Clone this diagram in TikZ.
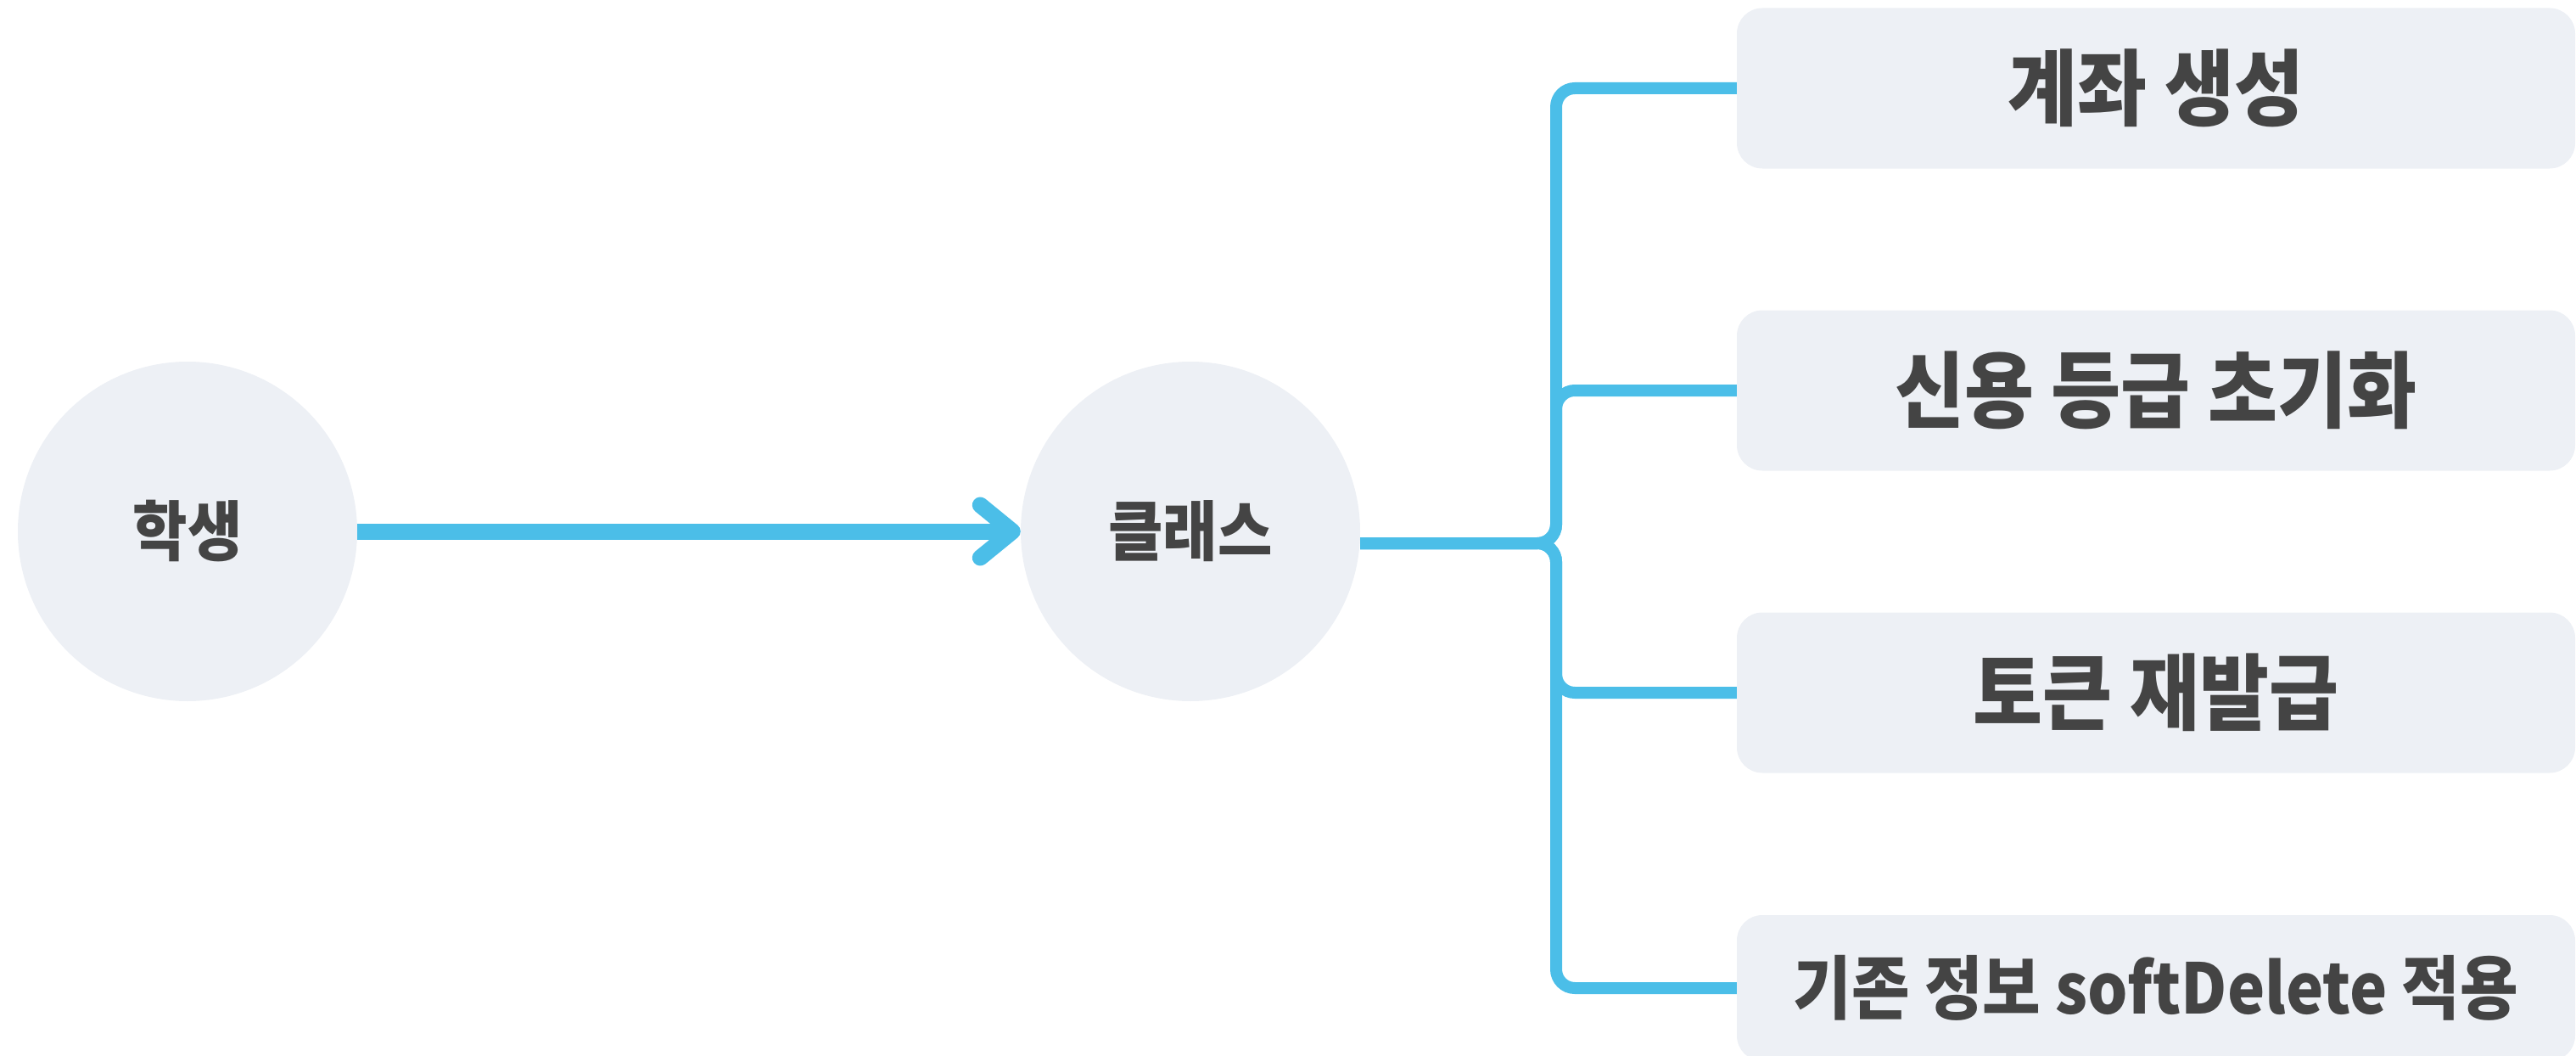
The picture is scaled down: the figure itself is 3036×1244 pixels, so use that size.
\documentclass[tikz,border=0pt]{standalone}
\usepackage{fontspec}
\setmainfont{Noto Sans CJK KR}
\newfontfamily\krn{Noto Sans CJK KR}[FakeStretch=0.91]
\usetikzlibrary{arrows.meta}
\definecolor{bluel}{HTML}{4BBEE8}
\definecolor{fillc}{HTML}{EDF0F5}
\definecolor{txt}{HTML}{444444}
\begin{document}
\begin{tikzpicture}[x=1pt,y=-1pt,
  circ/.style={circle, fill=fillc, minimum size=400pt, inner sep=0pt, text=txt, font=\krn\fontsize{77}{84}\selectfont\bfseries},
  task/.style={rectangle, rounded corners=30pt, fill=fillc, minimum width=988pt, minimum height=189pt, inner sep=0pt, text=txt, font=\krn\fontsize{98}{106}\selectfont\bfseries},
  link/.style={draw=bluel, line width=14pt, rounded corners=22pt},
  flow/.style={draw=bluel, line width=19pt, -{Straight Barb[round,length=38pt,width=62pt]}}
]
\useasboundingbox (0,0) rectangle (3036,1244);
\node[circ] (stu) at (221,626) {학생};
\node[circ] (cls) at (1403,626) {클래스};
\node[task] (b1) at (2541,104) {계좌 생성};
\node[task] (b2) at (2541,460) {신용 등급 초기화};
\node[task] (b3) at (2541,816) {토큰 재발급};
\node[task, minimum height=172pt, font=\krn\fontsize{82}{90}\selectfont\bfseries] (b4) at (2541,1164) {기존 정보 softDelete 적용};
\coordinate (j) at (1834,640);
\draw[flow] (stu) -- (cls);
\draw[link] ([yshift=-14pt]cls.east) -- (j) |- (b1.west);
\draw[link] ([yshift=-14pt]cls.east) -- (j) |- (b2.west);
\draw[link] ([yshift=-14pt]cls.east) -- (j) |- (b3.west);
\draw[link] ([yshift=-14pt]cls.east) -- (j) |- (b4.west);
\end{tikzpicture}
\end{document}
